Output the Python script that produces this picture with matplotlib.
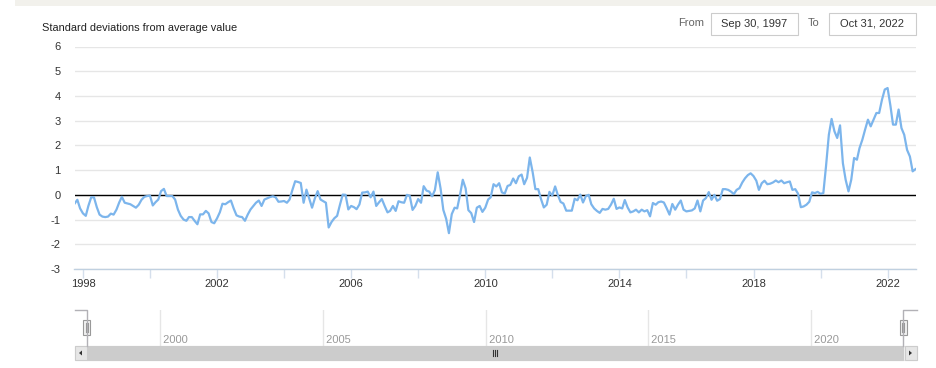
import numpy as np
import pandas as pd
import matplotlib
matplotlib.use("Agg")
import matplotlib.pyplot as plt
import matplotlib.dates as mdates
from matplotlib.patches import Rectangle, Polygon
from matplotlib.lines import Line2D

plt.rcParams['font.family'] = ['Liberation Sans', 'DejaVu Sans']
plt.rcParams['axes.unicode_minus'] = False

# ---------------- data ----------------
start_date = "1997-09-30"
values = [
    -0.36, -0.2, -0.55, -0.75, -0.85, -0.45, -0.1, -0.1, -0.5, -0.8,
    -0.88, -0.9, -0.88, -0.76, -0.8, -0.6, -0.3, -0.08, -0.32, -0.35,
    -0.38, -0.45, -0.52, -0.4, -0.2, -0.08, -0.05, -0.03, -0.43, -0.3,
    -0.19, 0.15, 0.24, -0.05, -0.05, -0.05, -0.19, -0.6, -0.85, -1.0,
    -1.05, -0.9, -0.9, -1.05, -1.19, -0.79, -0.79, -0.65, -0.75, -1.1,
    -1.15, -0.95, -0.7, -0.36, -0.38, -0.3, -0.23, -0.55, -0.83, -0.88,
    -0.9, -1.05, -0.8, -0.59, -0.45, -0.32, -0.23, -0.45, -0.19, -0.14,
    -0.09, -0.06, -0.1, -0.28, -0.27, -0.25, -0.32, -0.19, 0.2, 0.55,
    0.52, 0.48, -0.32, 0.21, -0.15, -0.52, -0.15, 0.15, -0.19, -0.25,
    -0.32, -1.32, -1.1, -0.95, -0.85, -0.4, 0.01, 0.0, -0.59, -0.45,
    -0.5, -0.58, -0.39, 0.09, 0.1, 0.13, -0.1, 0.13, -0.45, -0.3,
    -0.17, -0.45, -0.71, -0.65, -0.45, -0.65, -0.26, -0.3, -0.32, 0.0,
    -0.04, -0.61, -0.45, -0.17, -0.32, 0.35, 0.17, 0.13, -0.06, 0.19,
    0.91, 0.26, -0.61, -0.97, -1.55, -0.78, -0.52, -0.55, 0.0, 0.61,
    0.26, -0.62, -0.74, -1.1, -0.52, -0.45, -0.69, -0.52, -0.19, -0.1,
    0.43, 0.34, 0.47, 0.1, 0.05, 0.36, 0.4, 0.66, 0.47, 0.75,
    0.82, 0.43, 0.69, 1.51, 0.92, 0.23, 0.23, -0.18, -0.51, -0.4,
    0.12, -0.03, 0.34, 0.0, -0.29, -0.35, -0.64, -0.64, -0.64, -0.16,
    -0.22, 0.01, -0.31, -0.05, 0.0, -0.38, -0.55, -0.65, -0.73, -0.57,
    -0.6, -0.57, -0.4, -0.16, -0.57, -0.51, -0.55, -0.21, -0.51, -0.71,
    -0.67, -0.6, -0.71, -0.6, -0.67, -0.62, -0.87, -0.33, -0.4, -0.3,
    -0.27, -0.31, -0.55, -0.8, -0.37, -0.6, -0.4, -0.23, -0.6, -0.67,
    -0.65, -0.63, -0.55, -0.23, -0.67, -0.23, -0.13, 0.11, -0.2, 0.0,
    -0.24, -0.17, 0.23, 0.23, 0.2, 0.13, 0.03, 0.2, 0.27, 0.5,
    0.67, 0.8, 0.87, 0.76, 0.57, 0.2, 0.47, 0.57, 0.43, 0.45,
    0.5, 0.58, 0.51, 0.58, 0.47, 0.51, 0.54, 0.2, 0.23, 0.05,
    -0.5, -0.47, -0.4, -0.28, 0.1, 0.07, 0.12, 0.04, 0.07, 1.15,
    2.43, 3.07, 2.57, 2.3, 2.81, 1.28, 0.61, 0.14, 0.61, 1.49,
    1.42, 1.89, 2.23, 2.64, 3.04, 2.77, 3.04, 3.31, 3.31, 3.85,
    4.26, 4.32, 3.6, 2.84, 2.84, 3.45, 2.7, 2.43, 1.82, 1.55,
    0.95, 1.04,
]
y_ticks = [-3, -2, -1, 0, 1, 2, 3, 4, 5, 6]
x_label_years = [1998, 2002, 2006, 2010, 2014, 2018, 2022]
nav_label_years = [2000, 2005, 2010, 2015, 2020]
title_text = "Standard deviations from average value"
from_text = "Sep 30, 1997"
to_text = "Oct 31, 2022"

dates = pd.date_range(start_date, periods=len(values), freq="ME")

# ---------------- figure ----------------
W, H = 936, 368
fig = plt.figure(figsize=(W / 100, H / 100), dpi=100)
fig.patch.set_facecolor("white")


def fx(px):
    return px / W


def fy(py):
    return 1 - py / H


def rect_px(x0, y0, x1, y1, **kw):
    fig.patches.append(Rectangle((fx(x0), fy(y1)), (x1 - x0) / W, (y1 - y0) / H,
                                 transform=fig.transFigure, **kw))


def line_px(xs, ys, **kw):
    fig.lines.append(Line2D([fx(x) for x in xs], [fy(y) for y in ys],
                            transform=fig.transFigure, **kw))


# top band
rect_px(15, 0, 936, 6, facecolor="#f2f1ec", edgecolor="none")

# header texts
fig.text(fx(42), fy(28), title_text, fontsize=7.9, color="#222222", va="center", ha="left")
fig.text(fx(678), fy(23.5), "From", fontsize=8, color="#666666", va="center", ha="left")
fig.text(fx(808), fy(23.5), "To", fontsize=8, color="#666666", va="center", ha="left")
rect_px(711, 13, 798, 35, facecolor="white", edgecolor="#cccccc", lw=0.8)
rect_px(829, 13, 916, 35, facecolor="white", edgecolor="#cccccc", lw=0.8)
fig.text(fx(754.5), fy(24), from_text, fontsize=8, color="#333333", va="center", ha="center")
fig.text(fx(872.5), fy(24), to_text, fontsize=8, color="#333333", va="center", ha="center")

# ---------------- main axes ----------------
L, R, T, B = 74.5, 915.5, 46.5, 269
ax = fig.add_axes([fx(L), fy(B), (R - L) / W, (B - T) / H])
ax.set_facecolor("white")
ax.axhline(0, color="black", lw=1.0, zorder=2)
ax.plot(dates, values, color="#7cb5ec", lw=1.6, solid_joinstyle="round", zorder=3)
ax.set_xlim(dates[0], dates[-1])
ax.set_ylim(y_ticks[0], y_ticks[-1])
ax.set_yticks(y_ticks)
ax.yaxis.grid(True, color="#e6e6e6", lw=1.0)
ax.set_axisbelow(True)
for s in ["top", "right", "left"]:
    ax.spines[s].set_visible(False)
ax.spines["bottom"].set_color("#c0d0e0")
ax.spines["bottom"].set_linewidth(1.0)

ax.xaxis.set_major_locator(mdates.YearLocator(2))
label_set = set(x_label_years)
ax.xaxis.set_major_formatter(plt.FuncFormatter(
    lambda v, p: str(mdates.num2date(v).year) if mdates.num2date(v).year in label_set else ""))
ax.tick_params(axis="x", length=6.5, width=1, color="#d5dfec", labelsize=8,
               labelcolor="#333333", pad=0.5)
ax.tick_params(axis="y", length=0, labelsize=8, labelcolor="#333333", pad=10)

# ---------------- navigator ----------------
NL, NR, NT, NB = 74.5, 916.5, 310, 346
nav = fig.add_axes([fx(NL), fy(NB), (NR - NL) / W, (NB - NT) / H])
d0 = mdates.date2num(dates[0])
d1 = mdates.date2num(dates[-1])
span = d1 - d0
pad_l = span * 12.0 / 816
pad_r = span * 13.0 / 816
nav.set_xlim(d0 - pad_l, d1 + pad_r)
nav.set_ylim(0, 1)
nav.set_facecolor("none")
for s in nav.spines.values():
    s.set_visible(False)
nav.set_yticks([])
nav_ticks = [mdates.date2num(pd.Timestamp(f"{y}-01-01")) for y in nav_label_years]
nav.set_xticks(nav_ticks)
nav.set_xticklabels([])
nav.tick_params(axis="x", length=0)
nav.xaxis.grid(True, color="#e6e6e6", lw=1.0)
for t, yv in zip(nav_ticks, nav_label_years):
    nav.text(t, 0.03, f" {yv}", fontsize=8, color="#999999", ha="left", va="bottom")

# navigator outline
hx0 = L + (d0 - (d0 - pad_l)) / (span + pad_l + pad_r) * (NR - NL)
hx1 = L + (d1 - (d0 - pad_l)) / (span + pad_l + pad_r) * (NR - NL)
line_px([NL, hx0, hx0], [NT, NT, NB], color="#b2b1b6", lw=1)
line_px([hx1, hx1, NR], [NB, NT, NT], color="#b2b1b6", lw=1)

# scrollbar
rect_px(NL, 346, NR, 360, facecolor="#f2f2f2", edgecolor="#e6e6e6", lw=0.8)
rect_px(hx0, 346, hx1, 360, facecolor="#cccccc", edgecolor="#cccccc", lw=0.8)
rect_px(NL, 346, NL + 12, 360, facecolor="#e6e6e6", edgecolor="#cccccc", lw=0.8)
rect_px(NR - 12, 346, NR, 360, facecolor="#e6e6e6", edgecolor="#cccccc", lw=0.8)
fig.patches.append(Polygon([(fx(NL + 7.5), fy(350.5)), (fx(NL + 7.5), fy(355.5)), (fx(NL + 4.5), fy(353))],
                           closed=True, facecolor="#333333", edgecolor="none", transform=fig.transFigure))
fig.patches.append(Polygon([(fx(NR - 7.5), fy(350.5)), (fx(NR - 7.5), fy(355.5)), (fx(NR - 4.5), fy(353))],
                           closed=True, facecolor="#333333", edgecolor="none", transform=fig.transFigure))
cx = (hx0 + hx1) / 2
for dx in (-2, 0, 2):
    line_px([cx + dx, cx + dx], [350, 356], color="#333333", lw=0.8)

# handles
for hx in (hx0, hx1):
    rect_px(hx - 3.5, 320, hx + 3.5, 335, facecolor="#f2f2f2", edgecolor="#999999", lw=0.8)
    for dx in (-1, 1):
        line_px([hx + dx, hx + dx], [323, 332], color="#999999", lw=0.8)

fig.savefig("out.png", dpi=100)
